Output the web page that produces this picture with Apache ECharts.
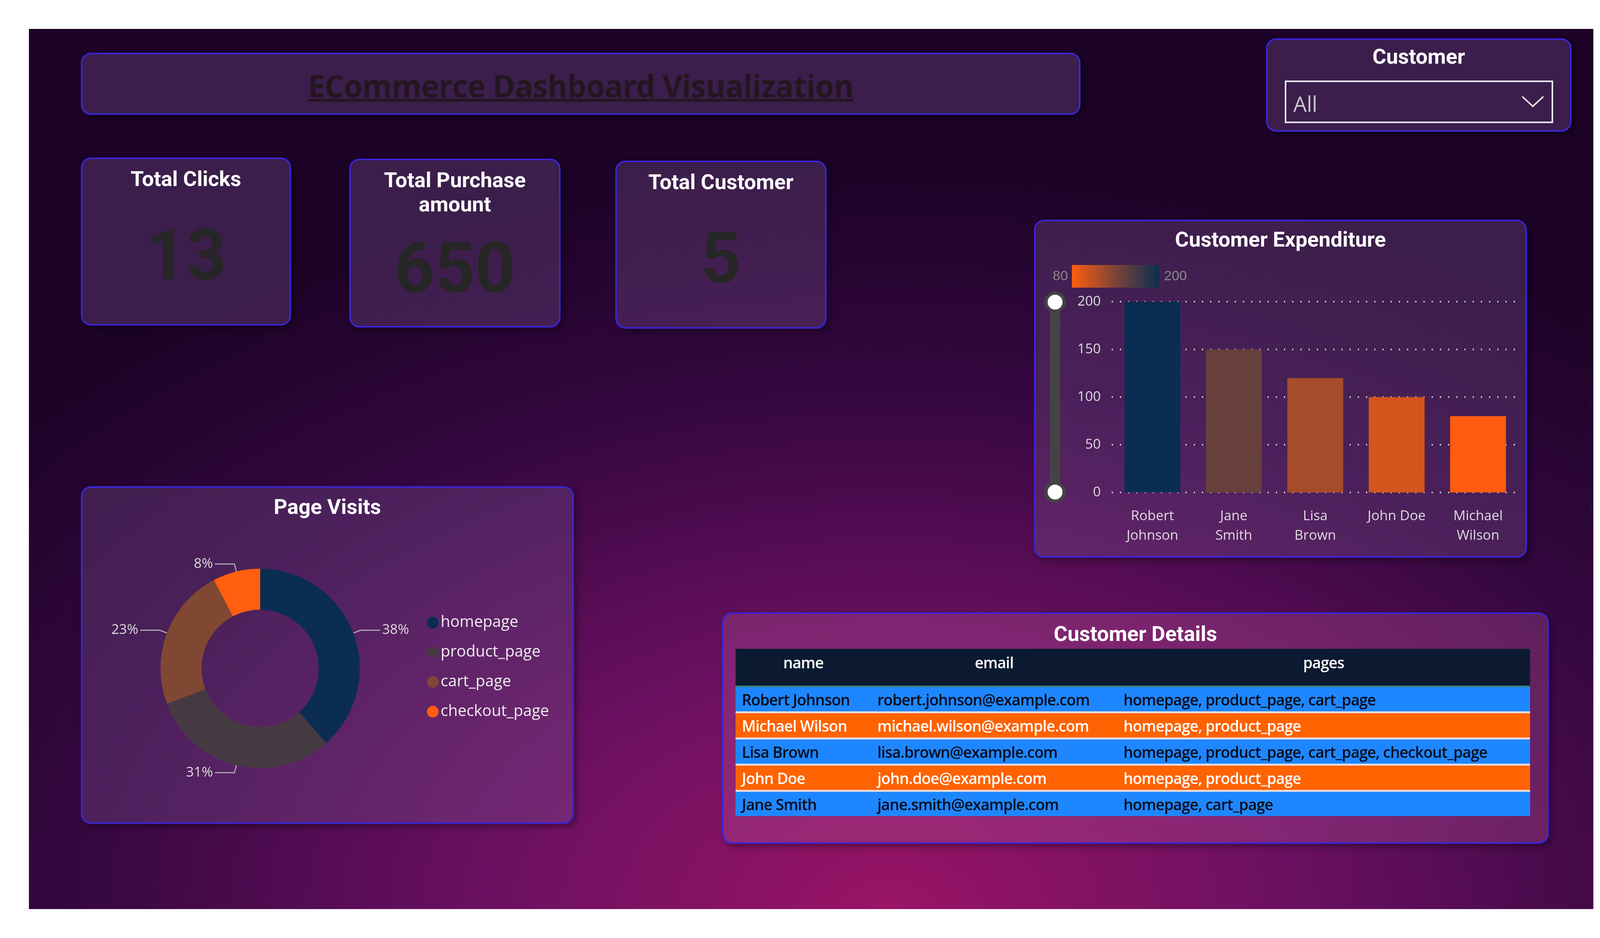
<!DOCTYPE html>
<html>
<head>
<meta charset="utf-8">
<script src="https://cdn.jsdelivr.net/npm/echarts@6/dist/echarts.min.js"></script>
<style>
  html, body { margin:0; padding:0; width:4150px; height:2400px; background:#fff; overflow:hidden; }
  #page { position:absolute; left:74px; top:74px; width:4005px; height:2252px;
    background: radial-gradient(ellipse 75% 85% at 55% 100%, #9a1466 0%, #6a1060 35%, #34073f 70%, #1c0327 100%); }
  .card { position:absolute; box-sizing:border-box; border:4px solid #3b25d6; border-radius:26px;
    background:rgba(125,85,150,0.33); box-shadow: 8px 8px 16px rgba(0,0,0,0.35); }
  .ttl { position:absolute; left:0; right:0; text-align:center; color:#fff; font-family:Roboto, sans-serif;
    font-weight:700; font-size:54px; line-height:62px; }
  .kpi { position:absolute; left:0; right:0; text-align:center; color:#262626; font-family:Roboto, sans-serif;
    font-weight:700; font-size:180px; }
  #chart { position:absolute; left:0; top:0; width:4150px; height:2400px; }
  #wrap { position:absolute; left:1883px; top:1660px; width:2034px; overflow:hidden; }
  table { width:2034px; table-layout:fixed; border-collapse:collapse;
    font-family:"Open Sans", sans-serif; font-weight:600; font-size:39px; letter-spacing:-1px; }
  th { background:#0b1a31; color:#fff; height:85px; font-weight:600; vertical-align:top; padding-top:8px;
    border-bottom:4px solid #3d7a6a; position:relative; }
  td { height:62px; padding:0 0 0 16px; white-space:nowrap; overflow:hidden; border-bottom:5px solid #e6dcdc; }
  tr:last-child td { border-bottom:none; }
</style>
</head>
<body>
<div id="page"></div>

<div class="card" style="left:207px;top:135px;width:2559px;height:159px;">
  <div style="position:absolute;left:0;right:0;top:40px;text-align:center;font-family:'Open Sans',sans-serif;font-weight:700;font-size:78px;color:#241620;text-decoration:underline;line-height:80px;letter-spacing:-1px;">ECommerce Dashboard Visualization</div>
</div>

<div class="card" style="left:3241px;top:98px;width:782px;height:239px;">
  <div class="ttl" style="top:12px;">Customer</div>
  <div style="position:absolute;left:44px;top:104px;width:687px;height:109px;box-sizing:border-box;border:4px solid #e8e8f0;">
    <span style="position:absolute;left:18px;top:18px;color:#ccc;font-family:'Open Sans',sans-serif;font-size:54px;">All</span>
    <svg style="position:absolute;right:18px;top:32px;" width="60" height="36"><polyline points="3,5 30,30 57,5" fill="none" stroke="#ddd" stroke-width="4"/></svg>
  </div>
</div>

<div class="card" style="left:207px;top:403px;width:538px;height:430px;">
  <div class="ttl" style="top:20px;">Total Clicks</div>
  <div class="kpi" id="kpi1" style="top:140px;"></div>
</div>
<div class="card" style="left:894px;top:406px;width:541px;height:432px;">
  <div class="ttl" style="top:20px;">Total Purchase<br>amount</div>
  <div class="kpi" id="kpi2" style="top:170px;"></div>
</div>
<div class="card" style="left:1575px;top:411px;width:541px;height:430px;">
  <div class="ttl" style="top:20px;">Total Customer</div>
  <div class="kpi" id="kpi3" style="top:140px;"></div>
</div>

<div class="card" style="left:2647px;top:562px;width:1262px;height:865px;">
  <div class="ttl" style="top:16px;">Customer Expenditure</div>
</div>
<div class="card" style="left:207px;top:1244px;width:1262px;height:864px;">
  <div class="ttl" style="top:18px;">Page Visits</div>
</div>
<div class="card" style="left:1848px;top:1567px;width:2117px;height:592px;background:rgba(190,90,160,0.3);">
  <div class="ttl" style="top:20px;">Customer Details</div>
</div>

<div id="chart"></div>

<div id="wrap">
<table id="tbl">
  <tr><th style="width:345px;">name<span style="position:absolute;left:360px;top:55px;font-size:26px;">&#9660;</span></th><th style="width:628px;">email</th><th>pages</th></tr>
</table>
</div>

<script>
var customers = ['Robert Johnson', 'Jane Smith', 'Lisa Brown', 'John Doe', 'Michael Wilson'];
var customerLabels = ['Robert\nJohnson', 'Jane\nSmith', 'Lisa\nBrown', 'John Doe', 'Michael\nWilson'];
var expenditure = [200, 150, 120, 100, 80];
var pageNames = ['homepage', 'product_page', 'cart_page', 'checkout_page'];
var pageVisits = [5, 4, 3, 1];
var pageColors = ['#0b2d52', '#463a42', '#804832', '#ff5f0f'];
var tableNames = ['Robert Johnson', 'Michael Wilson', 'Lisa Brown', 'John Doe', 'Jane Smith'];
var tableEmails = ['robert.johnson@example.com', 'michael.wilson@example.com', 'lisa.brown@example.com', 'john.doe@example.com', 'jane.smith@example.com'];
var tablePages = ['homepage, product_page, cart_page', 'homepage, product_page', 'homepage, product_page, cart_page, checkout_page', 'homepage, product_page', 'homepage, cart_page'];
var rowColors = ['#1e87ff', '#ff6200'];
var rowText = ['#0b0b1a', '#ffffff'];
var totalClicks = 13, totalPurchase = 650, totalCustomer = 5;

document.getElementById('kpi1').textContent = totalClicks;
document.getElementById('kpi2').textContent = totalPurchase;
document.getElementById('kpi3').textContent = totalCustomer;

var tbl = document.getElementById('tbl');
for (var i = 0; i < tableNames.length; i++) {
    var tr = document.createElement('tr');
    tr.style.background = rowColors[i % 2];
    tr.style.color = rowText[i % 2];
    [tableNames[i], tableEmails[i], tablePages[i]].forEach(function (t) {
        var td = document.createElement('td');
        td.textContent = t;
        tr.appendChild(td);
    });
    tbl.appendChild(tr);
}

var myChart = echarts.init(document.getElementById('chart'));
myChart.setOption({
    animation: false,
    grid: { left: 2846, top: 772, width: 1042, height: 488 },
    xAxis: {
        type: 'category',
        data: customerLabels,
        axisLine: { show: false },
        axisTick: { show: false },
        axisLabel: { color: '#ddd', fontSize: 35, fontFamily: 'Open Sans', lineHeight: 50, margin: 36 }
    },
    yAxis: {
        type: 'value', min: 0, max: 200, interval: 50,
        axisLabel: { color: '#ddd', fontSize: 35, fontFamily: 'Open Sans', margin: 28 },
        splitLine: { lineStyle: { color: '#ddd', type: [3, 18], width: 4 } }
    },
    dataZoom: [{
        type: 'slider', yAxisIndex: 0, left: 2684, top: 772, width: 26, height: 488,
        start: 0, end: 100, showDetail: false, showDataShadow: false,
        backgroundColor: '#444', fillerColor: '#444', borderColor: 'transparent',
        handleIcon: 'circle', handleSize: 46,
        handleStyle: { color: '#fff', borderColor: '#444', borderWidth: 8 },
        moveHandleSize: 0, brushSelect: false
    }],
    visualMap: {
        type: 'continuous', seriesIndex: 0, min: 80, max: 200, orient: 'horizontal',
        left: 2680, top: 663, itemWidth: 58, itemHeight: 226, calculable: false,
        text: ['200', '80'], textGap: 10, textStyle: { color: '#888', fontSize: 35 },
        inRange: { color: ['#ff5c0f', '#7a4438', '#0b2d52'] }
    },
    series: [{
        type: 'bar', data: expenditure, barWidth: 143
    }, {
        type: 'pie',
        center: [666, 1710], radius: [150, 255], startAngle: 90, clockwise: true,
        data: pageNames.map(function (n, i) {
            return { name: n, value: pageVisits[i], itemStyle: { color: pageColors[i] } };
        }),
        label: { color: '#ddd', fontSize: 35, fontFamily: 'Open Sans',
            formatter: function (p) { return Math.round(p.percent) + '%'; } },
        labelLine: { length: 20, length2: 50, lineStyle: { color: '#aaa', width: 3 } }
    }],
    legend: {
        data: pageNames, orient: 'vertical', left: 1088, top: 1568, itemGap: 36,
        icon: 'circle', itemWidth: 30, itemHeight: 30,
        textStyle: { color: '#eee', fontSize: 40, fontFamily: 'Open Sans' }
    }
});
</script>
</body>
</html>
